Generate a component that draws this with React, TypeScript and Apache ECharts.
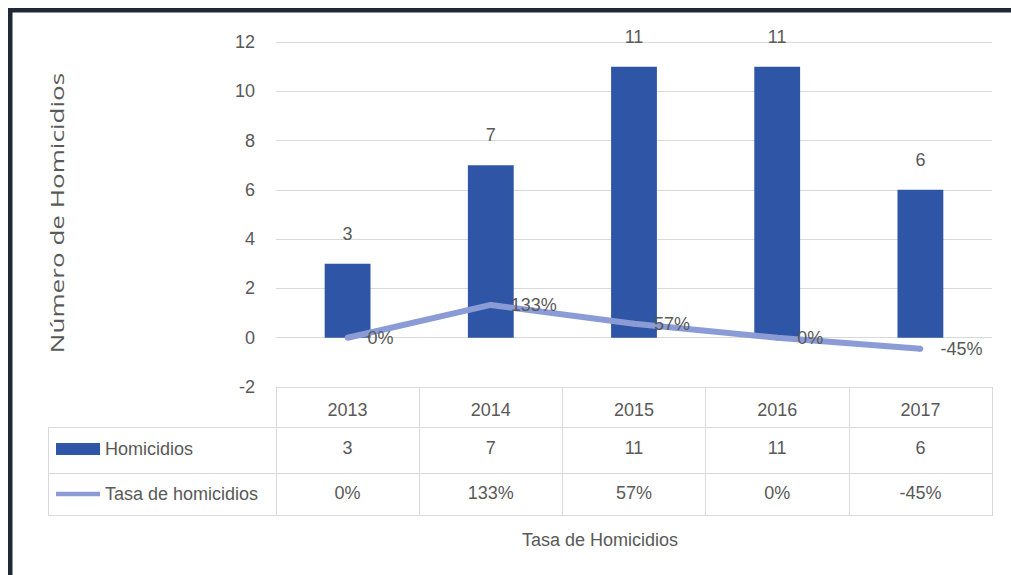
import React, { useEffect, useRef } from "react";
import * as echarts from "echarts";

const years = ["2013", "2014", "2015", "2016", "2017"];
const homicidios = [3, 7, 11, 11, 6];
const tasaPct = [0, 133, 57, 0, -45];
const yMin = -2;
const yMax = 12;
const yStep = 2;

const FONT = "Liberation Sans";
const TXT = "#595959";
const GRIDC = "#D9D9D9";
const BAR = "#2F56A6";
const LINE = "#8A9BD6";

export default function App() {
  const ref = useRef<HTMLDivElement>(null);
  useEffect(() => {
    document.body.style.margin = "0";
    const chart = echarts.init(ref.current!, null, { renderer: "svg" });
    const gl = { stroke: GRIDC, lineWidth: 1 };
    const pct = (v: number) => `${v}%`;
    chart.setOption({
      animation: false,
      backgroundColor: "#ffffff",
      textStyle: { fontFamily: FONT },
      grid: { left: 276, right: 19, top: 42, bottom: 188 },
      legend: {
        orient: "vertical",
        left: 56,
        top: 439,
        padding: 0,
        itemWidth: 44,
        itemHeight: 12,
        itemGap: 25,
        textStyle: { fontSize: 18, color: TXT, lineHeight: 20, fontFamily: FONT },
        data: [
          { name: "Homicidios", icon: "rect" },
          { name: "Tasa de homicidios", icon: "path://M0,0H50V5H0Z" },
        ],
      },
      xAxis: [
        {
          type: "category",
          data: years,
          position: "bottom",
          axisLine: { show: true, onZero: false, lineStyle: { color: GRIDC } },
          axisTick: { show: true, length: 128, interval: 0, lineStyle: { color: GRIDC } },
          axisLabel: { fontSize: 18, color: TXT, margin: 14 },
        },
        {
          type: "category",
          data: years,
          position: "bottom",
          offset: 44,
          axisLine: { show: false, onZero: false },
          axisTick: { show: false },
          axisLabel: {
            fontSize: 18,
            color: TXT,
            margin: 8,
            formatter: (_v: string, i: number) => String(homicidios[i]),
          },
        },
        {
          type: "category",
          data: years,
          position: "bottom",
          offset: 89,
          axisLine: { show: false, onZero: false },
          axisTick: { show: false },
          axisLabel: {
            fontSize: 18,
            color: TXT,
            margin: 8,
            formatter: (_v: string, i: number) => pct(tasaPct[i]),
          },
        },
      ],
      yAxis: {
        type: "value",
        min: yMin,
        max: yMax,
        interval: yStep,
        axisLine: { show: false },
        axisTick: { show: false },
        axisLabel: { fontSize: 18, color: TXT, margin: 21 },
        splitLine: { lineStyle: { color: GRIDC } },
      },
      series: [
        {
          name: "Homicidios",
          type: "bar",
          xAxisIndex: 0,
          data: homicidios,
          barWidth: "32%",
          itemStyle: { color: BAR },
          label: { show: true, position: "top", distance: 21, fontSize: 18, color: TXT },
        },
        {
          name: "Tasa de homicidios",
          type: "line",
          xAxisIndex: 0,
          data: tasaPct.map((v) => v / 100),
          symbol: "circle",
          symbolSize: 6,
          itemStyle: { color: LINE },
          lineStyle: { color: LINE, width: 6 },
          label: {
            show: true,
            position: "right",
            distance: 17,
            fontSize: 18,
            color: TXT,
            formatter: (p: any) => pct(tasaPct[p.dataIndex]),
          },
        },
      ],
      graphic: [
        { type: "rect", shape: { x: 8, y: 8, width: 1003, height: 4.5 }, style: { fill: "#1F2836" } },
        { type: "rect", shape: { x: 8, y: 8, width: 4.5, height: 567 }, style: { fill: "#1F2836" } },
        { type: "line", shape: { x1: 48, y1: 427.5, x2: 993, y2: 427.5 }, style: gl },
        { type: "line", shape: { x1: 48, y1: 473.5, x2: 993, y2: 473.5 }, style: gl },
        { type: "line", shape: { x1: 48, y1: 515.5, x2: 993, y2: 515.5 }, style: gl },
        { type: "line", shape: { x1: 48.5, y1: 427, x2: 48.5, y2: 516 }, style: gl },
        {
          type: "text",
          x: 57,
          y: 213,
          rotation: Math.PI / 2,
          scaleX: 1.45,
          style: {
            text: "Número de Homicidios",
            fontSize: 18,
            fontFamily: "Open Sans",
            fill: TXT,
            align: "center",
            verticalAlign: "middle",
          },
        },
        {
          type: "text",
          x: 600,
          y: 540,
          style: {
            text: "Tasa de Homicidios",
            fontSize: 18,
            fontFamily: FONT,
            fill: TXT,
            align: "center",
            verticalAlign: "middle",
          },
        },
      ],
    });
    return () => chart.dispose();
  }, []);
  return <div ref={ref} style={{ width: 1011, height: 575 }} />;
}
